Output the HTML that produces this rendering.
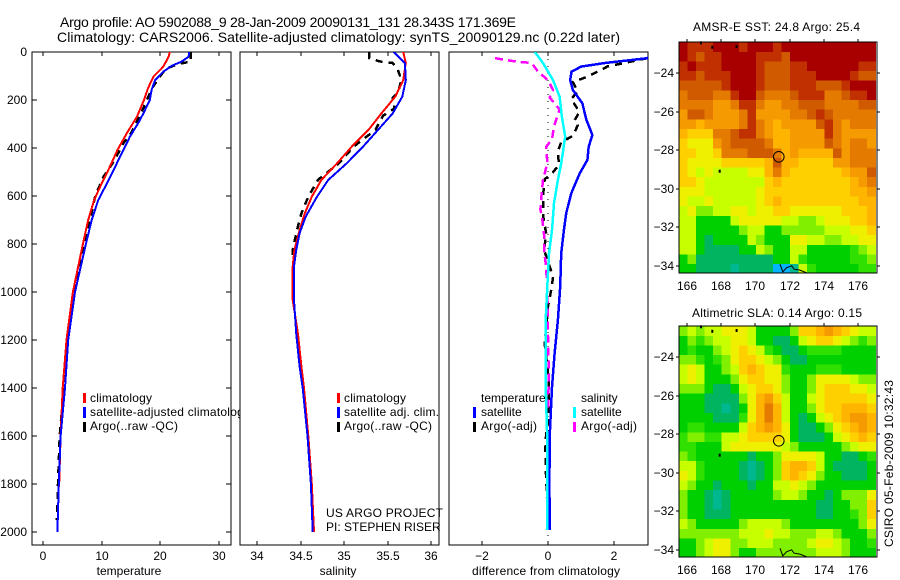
<!DOCTYPE html>
<html>
<head>
<meta charset="utf-8">
<title>Argo profile</title>
<style>
html,body{margin:0;padding:0;background:#fff;}
svg{display:block;}
text{font-family:"Liberation Sans",sans-serif;font-size:12px;fill:#000;}
.title{font-size:14px;}
</style>
</head>
<body>
<svg id="fig" xmlns="http://www.w3.org/2000/svg" width="900" height="580" viewBox="0 0 900 580">
<defs>
<clipPath id="clip-t"><rect x="32" y="52" width="199" height="493"/></clipPath>
<clipPath id="clip-s"><rect x="240" y="52" width="199" height="493"/></clipPath>
<clipPath id="clip-d"><rect x="449" y="52" width="199" height="493"/></clipPath>
<clipPath id="clip-leg"><rect x="85" y="390" width="155" height="45"/></clipPath>
</defs>
<rect x="0" y="0" width="900" height="580" fill="#fff"/>
<text class="title" x="60" y="27" textLength="456">Argo profile: AO 5902088_9 28-Jan-2009 20090131_131 28.343S 171.369E</text>
<text class="title" x="57" y="42" textLength="563">Climatology: CARS2006. Satellite-adjusted climatology: synTS_20090129.nc (0.22d later)</text>
<g id="layer-maps"></g>
<g id="layer-profiles"></g>

<g>
<rect x="83" y="393" width="3" height="10" fill="#f00"/>
<rect x="83" y="407" width="3" height="11" fill="#00f"/>
<rect x="83" y="422" width="3" height="10" fill="#000"/>
<text x="90" y="402" textLength="62">climatology</text>
<g clip-path="url(#clip-leg)"><text x="90" y="416" textLength="160">satellite-adjusted climatology</text></g>
<text x="90" y="430" textLength="88">Argo(..raw -QC)</text>
</g>

<g>
<rect x="337" y="393" width="3" height="10" fill="#f00"/>
<rect x="337" y="407" width="3" height="11" fill="#00f"/>
<rect x="337" y="422" width="3" height="10" fill="#000"/>
<text x="344" y="402" textLength="62">climatology</text>
<text x="344" y="416" textLength="95">satellite adj. clim.</text>
<text x="344" y="430" textLength="88">Argo(..raw -QC)</text>
<text x="326" y="517" textLength="117">US ARGO PROJECT</text>
<text x="326" y="531">PI: STEPHEN RISER</text>
</g>

<g>
<text x="481" y="402">temperature</text>
<rect x="473" y="407" width="3" height="11" fill="#00f"/>
<text x="481" y="416">satellite</text>
<rect x="473" y="422" width="3" height="10" fill="#000"/>
<text x="481" y="430" textLength="56">Argo(-adj)</text>
<text x="581" y="402">salinity</text>
<rect x="573" y="407" width="3" height="11" fill="#0ff"/>
<text x="581" y="416">satellite</text>
<rect x="573" y="422" width="3" height="10" fill="#f0f"/>
<text x="581" y="430" textLength="56">Argo(-adj)</text>
</g>

<text x="129" y="575" text-anchor="middle">temperature</text>
<text x="338" y="575" text-anchor="middle">salinity</text>
<text x="472" y="575" textLength="148">difference from climatology</text>
<text x="693" y="31" textLength="167">AMSR-E SST: 24.8 Argo: 25.4</text>
<text x="692" y="317" textLength="170">Altimetric SLA: 0.14 Argo: 0.15</text>
<text transform="translate(893,547) rotate(-90)" textLength="167">CSIRO 05-Feb-2009 10:32:43</text>
</svg>

<script>
// ---------- tick labels ----------
const depthTicks = [0,200,400,600,800,1000,1200,1400,1600,1800,2000];
const tempTicks = [0,10,20,30];
const salTicks = [34,34.5,35,35.5,36];
const diffTicks = [-2,0,2];
const lonTicks = [166,168,170,172,174,176];
const latTicks = [-24,-26,-28,-30,-32,-34];

// ---------- temperature profile ----------
const tempClimDepth = [0,20,61,103,150,200,270,338,408,478,547,617,700,800,1000,1200,1400,1600,1812];
const tempClimValue = [21.6,21.4,20.5,18.8,17.9,17.2,16,14.3,12.7,11.4,10,8.7,7.7,6.8,5.1,4.0,3.36,3.0,2.75];
const tempSatDepth = [0,20,40,58,82,117,158,200,256,297,353,408,478,547,617,700,800,1000,1200,1400,1600,1800,2000];
const tempSatValue = [24.9,24.8,23.6,21.9,20.5,19.1,18.5,18.2,17.1,16.2,14.8,13.7,12.3,10.9,9.4,8.3,7.3,5.45,4.3,3.75,3.0,2.7,2.45];
const tempArgoDepth = [0,20,40,50,70,110,150,200,256,338,380,450,520,600,700,800,1000,1200,1400,1600,1800,1950];
const tempArgoValue = [25.2,25.2,25.2,23,20.9,19.7,18.6,17.7,16.7,15,13.7,12.2,10.3,8.9,8.0,7.0,5.2,4.1,3.55,2.85,2.55,2.35];

// ---------- salinity profile ----------
const salClimDepth = [0,46,117,186,256,325,394,464,533,603,672,742,825,894,1033,1172,1310,1400,1600,1800,2000];
const salClimValue = [35.68,35.71,35.68,35.59,35.43,35.28,35.09,34.92,34.74,34.63,34.55,34.49,34.43,34.41,34.41,34.47,34.51,34.54,34.59,34.63,34.655];
const salSatDepth = [0,46,117,186,256,325,394,464,533,603,686,755,825,894,1033,1172,1310,1400,1600,1800,2000];
const salSatValue = [35.57,35.70,35.71,35.67,35.56,35.39,35.22,35.03,34.82,34.69,34.56,34.49,34.45,34.425,34.425,34.45,34.49,34.525,34.58,34.62,34.64];
const salArgoDepth = [0,26,39,46,74,117,170,190,235,265,325,394,464,533,603,672,742,825,894];
const salArgoValue = [35.29,35.29,35.41,35.56,35.62,35.66,35.62,35.56,35.58,35.45,35.36,35.11,34.94,34.7,34.59,34.51,34.46,34.41,34.42];

// ---------- difference from climatology ----------
const diffTempSatDepth = [0,26,46,61,82,117,158,214,283,346,394,450,505,589,672,742,839,978,1117,1256,1396,1575,1800,1992];
const diffTempSatValue = [3.2,3,1.72,1.0,0.71,0.67,0.75,1.04,1.16,1.34,1.23,1.19,0.96,0.7,0.55,0.48,0.4,0.37,0.3,0.2,0.12,0.06,0.04,0.06];
const diffSalSatDepth = [0,46,117,186,270,353,464,533,630,742,839,978,1117,1396,1575,1800,1992];
const diffSalSatValue = [-0.4,-0.15,0.15,0.35,0.42,0.52,0.4,0.3,0.18,0.12,0.03,-0.02,-0.07,-0.07,-0.03,-0.02,-0.03];
const diffTempArgoDepth = [26,46,60,82,105,125,165,195,250,285,305,350,375,415,470,510,530,600,680,760,825,905,940,990,1060,1215,1375,1533,1580,1650,1760,1950];
const diffTempArgoValue = [3,2.3,1.8,1.5,1.15,0.75,0.9,0.7,0.95,0.8,0.9,0.75,0.4,0.3,0.33,0.1,-0.1,-0.15,-0.15,-0.05,-0.12,0.08,0.15,0.1,0,-0.1,0.03,0.02,-0.05,-0.08,-0.06,0];
const diffSalArgoDepth = [26,39,46,82,117,158,190,240,310,364,394,464,533,603,655,700,760,825,880,978,1185,1325,1500];
const diffSalArgoValue = [-1.6,-1.0,-0.5,-0.3,0,0.15,0.05,0.35,0.18,0.12,-0.05,-0.02,-0.15,-0.2,-0.23,-0.17,-0.12,-0.12,-0.07,-0.02,0,0.02,0.01];

// ---------- map data (colour-scale level per 0.5 degree cell, north to south) ----------
const sstLevels = [
[14,13,13,13,14,14,14,13,14,14,14,13,14,14,14,14,14,14,14,14,14,14,14],
[14,13,12,13,13,14,14,14,14,13,13,13,12,14,14,14,14,14,14,14,14,14,14],
[13,14,13,13,13,14,14,14,14,13,12,12,12,13,13,14,14,14,14,14,14,13,13],
[13,13,12,13,13,13,14,14,14,13,12,12,12,13,13,13,14,14,14,14,13,12,12],
[12,12,12,12,12,13,14,14,14,13,12,12,12,13,13,13,12,12,12,13,14,14,14],
[11,12,12,12,11,11,13,14,14,12,11,11,11,12,13,13,13,11,11,12,13,13,14],
[11,11,11,11,10,10,11,13,13,11,10,10,11,11,12,12,12,11,11,11,11,12,12],
[10,12,12,11,10,10,10,11,13,10,10,10,10,11,11,12,13,12,11,11,11,11,11],
[10,10,9,10,10,10,10,11,13,11,10,9,10,10,10,10,12,13,11,10,11,11,11],
[9,8,8,8,11,11,12,13,13,11,10,9,9,10,10,10,10,13,11,10,10,10,10],
[8,7,7,7,10,11,12,12,12,12,11,9,9,10,10,10,10,12,11,10,11,11,10],
[8,8,7,7,8,11,11,11,12,12,12,11,9,10,9,9,9,9,12,10,11,11,11],
[8,7,7,7,7,8,8,8,8,8,9,12,9,9,8,8,8,8,10,10,11,11,11],
[8,7,6,7,6,6,6,6,7,7,9,11,9,8,8,8,8,8,8,9,10,10,12],
[8,8,7,6,6,6,6,6,6,6,8,9,8,8,8,8,8,8,8,8,9,10,11],
[7,7,7,6,6,6,6,6,6,7,8,8,8,8,8,8,8,8,8,8,9,9,10],
[7,6,6,7,6,6,6,6,6,7,8,9,8,8,8,8,8,8,8,8,8,9,9],
[6,7,5,5,6,6,7,7,6,7,7,8,8,7,7,7,7,7,7,8,8,8,9],
[6,6,3,3,3,3,6,7,7,7,7,7,6,6,5,5,6,7,7,7,8,8,9],
[6,6,3,3,3,3,3,5,6,6,3,3,5,5,5,5,5,6,6,6,7,7,8],
[6,6,3,2,3,3,3,3,6,5,3,3,3,7,7,6,6,5,5,6,6,7,7],
[6,6,3,2,2,2,2,3,3,6,5,3,3,6,6,3,3,3,3,3,4,5,6],
[3,5,2,2,2,2,2,2,2,2,2,3,3,6,4,3,3,3,3,3,4,4,5],
[3,3,2,2,2,2,1,2,2,2,2,0,0,1,6,4,3,3,3,3,3,4,4]
];
const slaLevels = [
[5,6,5,6,6,7,7,7,6,3,3,3,3,5,8,8,9,10,9,8,7,6,6],
[3,5,4,5,6,6,7,7,6,3,3,2,2,3,6,7,8,8,7,6,5,4,5],
[3,4,3,3,5,6,7,8,7,6,4,3,2,2,3,4,4,4,4,3,3,3,3],
[5,5,4,3,4,5,7,8,8,7,6,5,3,2,2,3,3,3,3,3,3,3,3],
[6,7,6,3,3,5,6,8,9,8,7,7,4,3,3,3,4,4,4,3,3,3,3],
[6,7,6,3,3,3,5,7,8,8,7,7,5,3,3,5,7,7,7,7,6,5,5],
[5,5,5,3,2,2,3,6,7,8,8,7,5,3,3,5,7,8,8,8,7,7,6],
[3,3,3,2,2,2,2,5,7,9,10,8,6,3,3,6,7,8,8,8,8,8,7],
[3,3,3,2,2,1,2,3,7,9,11,9,6,3,3,5,7,8,8,9,9,9,8],
[3,3,3,3,2,2,2,4,7,9,11,9,6,3,2,3,6,7,8,9,10,10,9],
[3,4,4,3,3,3,3,6,8,9,10,9,7,3,2,2,3,5,7,8,9,10,9],
[4,5,5,4,4,6,6,7,8,8,8,8,7,3,2,2,2,3,6,7,8,9,8],
[4,4,3,3,3,6,7,7,7,7,7,7,6,5,3,3,3,3,3,5,6,7,7],
[5,4,3,3,3,3,3,3,2,3,3,5,7,7,7,7,6,3,3,2,2,3,4],
[6,6,4,3,3,3,3,2,1,2,3,5,8,9,9,8,6,3,2,2,2,2,3],
[7,6,4,3,3,3,3,2,1,2,3,5,8,9,8,7,5,3,3,2,2,2,3],
[6,5,3,3,2,3,3,3,2,3,3,6,6,7,6,5,3,3,3,3,3,3,3],
[5,3,3,2,1,2,3,3,3,3,3,5,6,6,5,3,3,2,3,5,5,5,7],
[5,3,3,2,1,2,3,3,3,3,3,3,3,3,3,3,2,2,3,3,5,5,8],
[5,3,3,2,2,2,3,3,3,3,3,3,3,3,3,3,2,2,3,3,4,5,8],
[6,5,3,3,3,3,3,5,6,6,6,6,5,3,3,3,3,3,3,3,3,5,7],
[5,5,5,5,5,5,5,6,6,6,7,6,6,5,5,5,6,6,5,3,3,3,5],
[3,3,5,6,7,7,5,5,6,6,6,5,5,5,5,6,7,7,6,5,3,3,4],
[3,3,5,6,7,7,5,3,3,5,5,5,5,5,5,5,6,6,6,5,3,3,3]
];
const coastLon = [171.44,171.6,171.83,172.12,172.26,172.6,173];
const coastLat = [-33.91,-34.3,-34.09,-33.99,-34.16,-34.21,-34.35];
const islandLon = [166.82,167.48,168.9,167.91];
const islandLat = [-22.41,-22.64,-22.6,-29.06];
const floatLon = 171.37;
const floatLat = -28.34;

const levelColors = ['#00b4ff','#00b890','#00b460','#00d000','#30e000','#80f000','#c8ff00','#eef000','#ffd000','#ffb400','#f59a00','#e47a00','#d05a00','#c03000','#a80000'];

// ---------- axis functions ----------
const NS = 'http://www.w3.org/2000/svg';
const yDepth = d => 52 + d * 0.24;
const xTemp = v => 43 + v * 5.87;
const xSal = v => 257 + (v - 34) * 87;
const xDiff = v => 548 + v * 33.1;
const xLon = v => 687 + (v - 166) * 17.1;
const yLatTop = v => 73 + (-24 - v) * 19.3;
const yLatBottom = v => 357 + (-24 - v) * 19.3;

function make(tag, parent, attrs, text) {
  const el = document.createElementNS(NS, tag);
  for (const k in attrs) el.setAttribute(k, attrs[k]);
  if (text !== undefined) el.textContent = text;
  parent.appendChild(el);
  return el;
}

const profiles = document.getElementById('layer-profiles');
const maps = document.getElementById('layer-maps');

function drawLine(parent, xFn, depths, values, color, width, dash, name) {
  const pts = depths.map((d, i) => xFn(values[i]).toFixed(1) + ',' + yDepth(d).toFixed(1)).join(' ');
  const el = make('polyline', parent, {points: pts, fill: 'none', stroke: color, 'stroke-width': width, 'stroke-dasharray': dash || 'none', 'shape-rendering': 'crispEdges'});
  
  
}

function drawPanel(left, clipId, xFn, ticks, panelName, showDepth) {
  const g = make('g', profiles, {});
  
  
  const frame = make('rect', g, {x: left, y: 52, width: 199, height: 493, fill: 'none', stroke: '#000', 'stroke-width': 1, 'shape-rendering': 'crispEdges'});
  
  
  ticks.forEach(t => {
    const x = Math.round(xFn(t));
    const top = make('line', g, {x1: x, x2: x, y1: 52, y2: 56, stroke: '#000', 'shape-rendering': 'crispEdges'});
    
    
    const bottom = make('line', g, {x1: x, x2: x, y1: 541, y2: 545, stroke: '#000', 'shape-rendering': 'crispEdges'});
    
    
    const label = make('text', g, {x: x, y: 560, 'text-anchor': 'middle'}, String(t).replace('-', '\u2212'));
    
    
  });
  if (showDepth) {
    depthTicks.forEach(d => {
      const y = Math.round(yDepth(d));
      const l = make('line', g, {x1: left, x2: left + 5, y1: y, y2: y, stroke: '#000', 'shape-rendering': 'crispEdges'});
      
      
      const r = make('line', g, {x1: left + 194, x2: left + 199, y1: y, y2: y, stroke: '#000', 'shape-rendering': 'crispEdges'});
      
      
      const label = make('text', g, {x: 27, y: y + 4, 'text-anchor': 'end'}, String(d));
      
      
    });
  }
  return make('g', g, {'clip-path': 'url(#' + clipId + ')'});
}

const pT = drawPanel(32, 'clip-t', xTemp, tempTicks, 'temperature-panel', true);
drawLine(pT, xTemp, tempArgoDepth, tempArgoValue, '#000', 2.5, '7 6', 'temperature-argo-line');
drawLine(pT, xTemp, tempClimDepth, tempClimValue, '#f00', 2, '', 'temperature-climatology-line');
drawLine(pT, xTemp, tempSatDepth, tempSatValue, '#00f', 2, '', 'temperature-satellite-line');

const pS = drawPanel(240, 'clip-s', xSal, salTicks, 'salinity-panel', false);
drawLine(pS, xSal, salArgoDepth, salArgoValue, '#000', 2.5, '7 6', 'salinity-argo-line');
drawLine(pS, xSal, salClimDepth, salClimValue, '#f00', 2, '', 'salinity-climatology-line');
drawLine(pS, xSal, salSatDepth, salSatValue, '#00f', 2, '', 'salinity-satellite-line');

const pD = drawPanel(449, 'clip-d', xDiff, diffTicks, 'difference-panel', false);
const zeroLine = make('line', pD, {x1: xDiff(0), x2: xDiff(0), y1: 52, y2: 545, stroke: '#000', 'stroke-width': 1, 'stroke-dasharray': '1 6', 'shape-rendering': 'crispEdges'});


drawLine(pD, xDiff, diffTempArgoDepth, diffTempArgoValue, '#000', 2.5, '7 6', 'difference-temperature-argo-line');
drawLine(pD, xDiff, diffSalArgoDepth, diffSalArgoValue, '#f0f', 2.5, '8 5', 'difference-salinity-argo-line');
drawLine(pD, xDiff, diffTempSatDepth, diffTempSatValue, '#00f', 2.5, '', 'difference-temperature-satellite-line');
drawLine(pD, xDiff, diffSalSatDepth, diffSalSatValue, '#0ff', 2.5, '', 'difference-salinity-satellite-line');

function drawMap(levels, yLat, top, panelName) {
  const g = make('g', maps, {});
  
  
  const lon0 = 165.53, lat0 = -22.4, step = 0.5;
  levels.forEach((row, r) => row.forEach((lvl, c) => {
    const x0 = xLon(lon0 + c * step), x1 = Math.min(877, xLon(lon0 + (c + 1) * step));
    const y0 = yLat(lat0 - r * step), y1 = yLat(lat0 - (r + 1) * step);
    const cell = make('rect', g, {x: x0.toFixed(1), y: y0.toFixed(1), width: (x1 - x0 + 0.3).toFixed(1), height: (Math.min(y1, top + 231) - y0 + 0.3).toFixed(1), fill: levelColors[lvl], 'shape-rendering': 'crispEdges'});
    
    
  }));
  const frame = make('rect', g, {x: 679, y: top, width: 198, height: 231, fill: 'none', stroke: '#000', 'stroke-width': 1, 'shape-rendering': 'crispEdges'});
  
  
  lonTicks.forEach(t => {
    const x = Math.round(xLon(t));
    const tick = make('line', g, {x1: x, x2: x, y1: top - 3, y2: top, stroke: '#000', 'shape-rendering': 'crispEdges'});
    
    
    const label = make('text', g, {x: x, y: top + 248, 'text-anchor': 'middle'}, String(t));
    
    
  });
  latTicks.forEach(t => {
    const y = Math.round(yLat(t));
    const l = make('line', g, {x1: 676, x2: 679, y1: y, y2: y, stroke: '#000', 'shape-rendering': 'crispEdges'});
    
    
    const r = make('line', g, {x1: 877, x2: 880, y1: y, y2: y, stroke: '#000', 'shape-rendering': 'crispEdges'});
    
    
    const label = make('text', g, {x: 674, y: y + 4, 'text-anchor': 'end'}, '\u2212' + Math.abs(t));
    
    
  });
  const coast = make('polyline', g, {points: coastLon.map((v, i) => xLon(v).toFixed(1) + ',' + yLat(coastLat[i]).toFixed(1)).join(' '), fill: 'none', stroke: '#000', 'stroke-width': 1});
  
  
  islandLon.forEach((v, i) => {
    const dot = make('rect', g, {x: (xLon(v) - 1).toFixed(1), y: (yLat(islandLat[i]) - 1).toFixed(1), width: 2, height: 3, fill: '#000'});
    
    
  });
  const marker = make('circle', g, {cx: xLon(floatLon).toFixed(1), cy: yLat(floatLat).toFixed(1), r: 5.3, fill: 'none', stroke: '#000', 'stroke-width': 1});
  
  
}

drawMap(sstLevels, yLatTop, 42, 'sst-map');
drawMap(slaLevels, yLatBottom, 326, 'sla-map');
</script>
</body>
</html>
